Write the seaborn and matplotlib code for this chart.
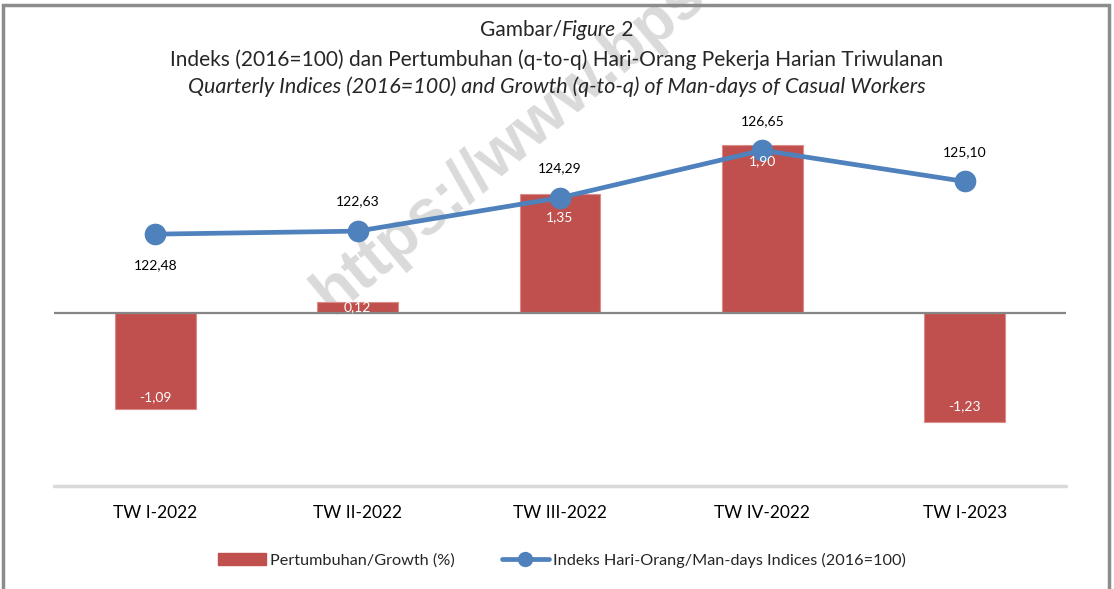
import matplotlib
matplotlib.use("Agg")
import matplotlib.pyplot as plt
from matplotlib.lines import Line2D
from matplotlib.patches import Patch, Rectangle
import pandas as pd
import seaborn as sns

quarters = ["TW I-2022", "TW II-2022", "TW III-2022", "TW IV-2022", "TW I-2023"]
growth = [-1.09, 0.12, 1.35, 1.90, -1.23]
index_values = [122.48, 122.63, 124.29, 126.65, 125.10]

BAR_COLOR = "#C0504D"
LINE_COLOR = "#4F81BD"


def fmt(v: float) -> str:
    return f"{v:.2f}".replace(".", ",")


sns.set_theme(style="white")
plt.rcParams["font.family"] = ["Lato", "DejaVu Sans"]

df = pd.DataFrame({"Quarter": quarters, "Growth": growth, "Index": index_values})

fig = plt.figure(figsize=(11.14, 5.89), dpi=100)
ax = fig.add_axes([54 / 1114, 103 / 589, 1012 / 1114, 400 / 589])
ax.set_facecolor("none")

sns.barplot(data=df, x="Quarter", y="Growth", color=BAR_COLOR, saturation=1,
            width=0.4, edgecolor="#D98C8A", linewidth=0.8, ax=ax, zorder=2)
ax.set_ylim(-1.955, 2.565)
ax.set_xlim(-0.5, 4.5)
ax.axhline(0, color="#868686", lw=1.6, zorder=3)
ax.axhline(-1.955, color="#D9D9D9", lw=2.5, zorder=1, clip_on=False)
ax.set_yticks([])
ax.set_xlabel("")
ax.set_ylabel("")
ax.tick_params(axis="x", length=0, labelsize=12.5, pad=14, labelcolor="#000000")
for s in ax.spines.values():
    s.set_visible(False)

ax2 = ax.twinx()
sns.lineplot(data=df, x="Quarter", y="Index", color=LINE_COLOR, lw=3.4,
             marker="o", markersize=15.6, markeredgewidth=0, sort=False, ax=ax2, zorder=4)
ax2.set_ylim(109.95, 129.85)
ax2.set_yticks([])
ax2.set_ylabel("")
for s in ax2.spines.values():
    s.set_visible(False)

label_dy = [-31, 30, 30, 29, 29]
for i, (v, dy) in enumerate(zip(index_values, label_dy)):
    ax2.annotate(fmt(v), (i, v), xytext=(0, dy), textcoords="offset pixels",
                 ha="center", va="center", color="black", fontsize=10)

# bar labels, white inside the bar end (drawn above the line)
inward = [12, 5, 24, 16, 16]
for patch, v, off in zip(ax.patches, growth, inward):
    xc = patch.get_x() + patch.get_width() / 2
    dy = -off if v > 0 else off
    ax2.annotate(fmt(v), (xc, v), xycoords=ax.transData, xytext=(0, dy),
                 textcoords="offset pixels", ha="center", va="center",
                 color="white", fontsize=10, zorder=6)

# title (first line mixes upright and italic)
renderer = fig.canvas.get_renderer()
y1 = 1 - 30 / 589
parts = [("Gambar/", "normal"), ("Figure", "italic"), (" 2", "normal")]
texts = [fig.text(0, y1, p, fontsize=15, style=st, ha="left", va="center") for p, st in parts]
widths = [t.get_window_extent(renderer).width / fig.bbox.width for t in texts]
x0 = 0.5 - sum(widths) / 2
for t, w in zip(texts, widths):
    t.set_x(x0)
    x0 += w
fig.text(0.5, 1 - 60 / 589,
         "Indeks (2016=100) dan Pertumbuhan (q-to-q) Hari-Orang Pekerja Harian Triwulanan",
         fontsize=15, ha="center", va="center")
fig.text(0.5, 1 - 87 / 589,
         "Quarterly Indices (2016=100) and Growth (q-to-q) of Man-days of Casual Workers",
         fontsize=15.5, style="italic", ha="center", va="center")

handles = [
    Patch(facecolor=BAR_COLOR, edgecolor=BAR_COLOR),
    Line2D([0], [0], color=LINE_COLOR, lw=3.4, marker="o", markersize=10),
]
labels = ["Pertumbuhan/Growth (%)", "Indeks Hari-Orang/Man-days Indices (2016=100)"]
fig.legend(handles, labels, loc="center", bbox_to_anchor=(562 / 1114, 1 - 560 / 589),
           ncol=2, frameon=False, fontsize=11.7, handlelength=2.9, handleheight=0.7,
           handletextpad=0.25, columnspacing=2.9)

# watermark, behind the chart
fig.text(332 / 1114, 1 - 315 / 589, "https://www.bps.go.id", fontsize=46,
         fontweight="bold", family=["Liberation Sans", "DejaVu Sans"], color="#DADADA",
         rotation=40, rotation_mode="anchor", ha="left", va="baseline", zorder=-1)

# outer frame
fig.patches.append(Rectangle((3 / 1114, -0.05), 1106 / 1114, 1.05 - 5 / 589,
                             transform=fig.transFigure, fill=False,
                             edgecolor="#8C8C8C", lw=2.5))

fig.savefig("out.png", dpi=100)
